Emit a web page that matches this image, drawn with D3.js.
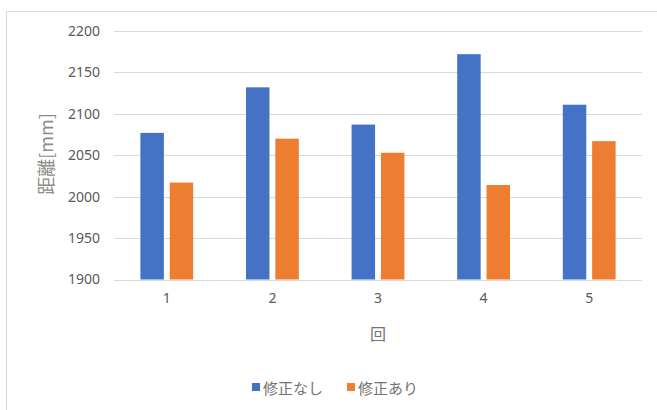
<!DOCTYPE html>
<html>
<head>
<meta charset="utf-8">
<script src="https://cdn.jsdelivr.net/npm/d3@7"></script>
<style>
  body { margin: 0; background: #fff; }
  text { fill: #595959; }
</style>
</head>
<body>
<div id="container"></div>
<script>
/* DATA */
const rounds = ["1", "2", "3", "4", "5"];
const seriesNames = ["修正なし", "修正あり"];
const withoutFix = [2077, 2132, 2087, 2172, 2111];
const withFix = [2017, 2070, 2053, 2014, 2067];
const yTicks = [1900, 1950, 2000, 2050, 2100, 2150, 2200];
const colors = ["#4472C4", "#ED7D31"];

/* CONSTANTS */
const width = 657;
const height = 410;
const plot = { left: 114, right: 642, top: 31, bottom: 279.5 };
const numFont = "'Noto Sans', 'Liberation Sans', sans-serif";
const jpFont = "'Noto Sans CJK JP', sans-serif";

const svg = d3.select("#container").append("svg")
  .attr("width", width)
  .attr("height", height);

// chart frame
svg.append("rect")
  .attr("x", 6.5).attr("y", 11.5)
  .attr("width", width + 20).attr("height", height + 20)
  .attr("fill", "none")
  .attr("stroke", "#d9d9d9");

/* SCALES */
const x0 = d3.scaleBand()
  .domain(rounds)
  .range([plot.left, plot.right])
  .paddingInner(0.5)
  .paddingOuter(0.25);

const x1 = d3.scaleBand()
  .domain(seriesNames)
  .range([0, x0.bandwidth()])
  .paddingInner(0.2);

const y = d3.scaleLinear()
  .domain([1900, 2200])
  .range([plot.bottom, plot.top]);

// gridlines
svg.append("g")
  .selectAll("line")
  .data(yTicks)
  .join("line")
  .attr("x1", plot.left).attr("x2", plot.right)
  .attr("y1", d => Math.round(y(d)) + 0.5)
  .attr("y2", d => Math.round(y(d)) + 0.5)
  .attr("stroke", "#d9d9d9")
  .attr("stroke-width", 1);

// y axis labels
const yAxis = d3.axisLeft(y).tickValues(yTicks).tickFormat(d3.format("d")).tickSize(0).tickPadding(0);
svg.append("g")
  .attr("transform", `translate(100,0)`)
  .call(yAxis)
  .call(g => g.select(".domain").remove())
  .selectAll("text")
  .style("font-family", numFont)
  .style("font-size", "14px")
  .attr("fill", "#595959");

// bars
const rows = rounds.map((r, i) => ({ round: r, values: [withoutFix[i], withFix[i]] }));
const groups = svg.append("g")
  .selectAll("g")
  .data(rows)
  .join("g")
  .attr("transform", d => `translate(${x0(d.round)},0)`);

groups.selectAll("rect")
  .data(d => d.values.map((v, k) => ({ name: seriesNames[k], value: v, k })))
  .join("rect")
  .attr("x", d => x1(d.name))
  .attr("y", d => y(d.value))
  .attr("width", x1.bandwidth())
  .attr("height", d => y(1900) - y(d.value))
  .attr("fill", d => colors[d.k]);

// x axis labels
const xAxis = d3.axisBottom(x0).tickSize(0).tickPadding(0);
svg.append("g")
  .attr("transform", `translate(0,${plot.bottom + 14})`)
  .call(xAxis)
  .call(g => g.select(".domain").remove())
  .selectAll("text")
  .style("font-family", numFont)
  .style("font-size", "14px")
  .attr("fill", "#595959");

// axis titles
svg.append("text")
  .attr("x", x0("3") + x0.bandwidth() / 2)
  .attr("y", 333)
  .attr("text-anchor", "middle")
  .attr("dominant-baseline", "central")
  .style("font-family", jpFont)
  .style("font-size", "16px")
  .style("fill", "#737373")
  .text("回");

svg.append("text")
  .attr("transform", "translate(45,154) rotate(-90)")
  .attr("text-anchor", "middle")
  .attr("dominant-baseline", "central")
  .style("font-family", jpFont)
  .style("font-size", "18px")
  .style("fill", "#8c8c8c")
  .text("距離[mm]");

// legend
const legendPos = [252, 347];
const legend = svg.append("g")
  .selectAll("g")
  .data(seriesNames)
  .join("g")
  .attr("transform", (d, i) => `translate(${legendPos[i]},387)`);

legend.append("rect")
  .attr("x", 0).attr("y", -4)
  .attr("width", 8).attr("height", 8)
  .attr("fill", (d, i) => colors[i]);

legend.append("text")
  .attr("x", 11)
  .attr("y", 0)
  .attr("dominant-baseline", "central")
  .style("font-family", jpFont)
  .style("font-size", "15px")
  .style("fill", "#737373")
  .text(d => d);
</script>
</body>
</html>
